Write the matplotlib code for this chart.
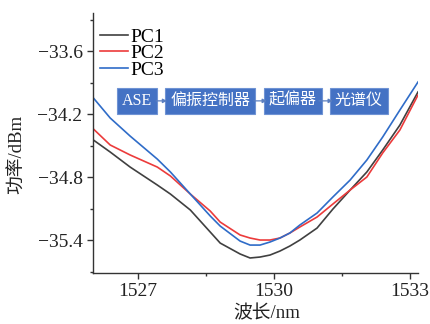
import matplotlib
matplotlib.use("Agg")
import matplotlib.pyplot as plt
from matplotlib.ticker import MultipleLocator

# wavelength grid (nm)
wavelength = [1526.01, 1526.38, 1526.82, 1527.42, 1527.71, 1528.15, 1528.59, 1528.81,
              1529.25, 1529.47, 1529.69, 1529.91, 1530.13, 1530.35, 1530.57, 1530.95,
              1531.30, 1531.68, 1532.05, 1532.40, 1532.78, 1533.18]
pc1 = [-34.448, -34.562, -34.705, -34.876, -34.962, -35.114, -35.324, -35.429,
       -35.533, -35.571, -35.562, -35.543, -35.505, -35.457, -35.400, -35.286,
       -35.105, -34.924, -34.752, -34.543, -34.305, -33.990]
pc2 = [-34.343, -34.495, -34.590, -34.705, -34.790, -34.962, -35.124, -35.229,
       -35.352, -35.381, -35.400, -35.400, -35.381, -35.333, -35.276, -35.181,
       -35.057, -34.924, -34.800, -34.571, -34.352, -34.019]
pc3 = [-34.048, -34.238, -34.410, -34.629, -34.752, -34.962, -35.171, -35.267,
       -35.410, -35.448, -35.448, -35.419, -35.381, -35.333, -35.257, -35.143,
       -34.990, -34.829, -34.638, -34.419, -34.162, -33.895]

series = [("PC1", pc1, "#404040"), ("PC2", pc2, "#ec3b3b"), ("PC3", pc3, "#2f6cc8")]
flow_steps = ["ASE", "偏振控制器", "起偏器", "光谱仪"]

FONTS = ["Liberation Serif", "Noto Sans CJK SC"]
plt.rcParams["font.family"] = FONTS
plt.rcParams["axes.unicode_minus"] = True

fig = plt.figure(figsize=(4.31, 3.24), dpi=100)
ax = fig.add_axes([93 / 431, 1 - 273 / 324, 325 / 431, 260 / 324])

for name, vals, col in series:
    ax.plot(wavelength, vals, color=col, lw=1.2, label=name)

ax.set_xlim(1526.0, 1533.18)
ax.set_ylim(-35.714, -33.238)
ax.xaxis.set_major_locator(MultipleLocator(3))
ax.xaxis.set_minor_locator(MultipleLocator(1.5))
ax.yaxis.set_major_locator(MultipleLocator(0.6))
ax.yaxis.set_minor_locator(MultipleLocator(0.3))
ax.yaxis.set_major_formatter(matplotlib.ticker.FuncFormatter(lambda v, p: f"{v:.1f}".replace("-", "\u2212")))

for s in ["top", "right"]:
    ax.spines[s].set_visible(False)
for s in ["left", "bottom"]:
    ax.spines[s].set_color("#333333")
    ax.spines[s].set_linewidth(1.0)
ax.tick_params(which="major", direction="out", length=4, width=1, labelsize=14, colors="#333333", labelcolor="#222222")
ax.tick_params(which="minor", direction="out", length=2.5, width=1, colors="#333333")

ax.set_xlabel("波长/nm", fontsize=13.5, color="#222222")
ax.set_ylabel("功率/dBm", fontsize=13.5, color="#222222")
ax.xaxis.set_label_coords(0.535, -0.125)
ax.yaxis.set_label_coords(-0.205, 0.455)

ax.legend(loc="upper left", bbox_to_anchor=(-0.02, 0.995), frameon=False, fontsize=14,
          handlelength=1.45, handletextpad=0.1, labelspacing=-0.05, borderaxespad=0.3)

# flow diagram boxes
box_x = [0.136, 0.361, 0.615, 0.818]
box_y = 0.662
edges = [(0.194, 0.228), (0.495, 0.535), (0.695, 0.738)]
for txt, bx in zip(flow_steps, box_x):
    ax.text(bx, box_y, txt, transform=ax.transAxes, ha="center", va="center",
            fontsize=11.5, color="white",
            bbox=dict(boxstyle="square,pad=0.32", fc="#4472c4", ec="#6f93d4", lw=0.8))
for x0, x1 in edges:
    ax.annotate("", xy=(x1, box_y), xytext=(x0, box_y), xycoords="axes fraction",
                arrowprops=dict(arrowstyle="-|>", color="#5b7fc0", lw=0.9,
                                mutation_scale=6, shrinkA=0, shrinkB=0))

fig.savefig("out.png", dpi=100)
